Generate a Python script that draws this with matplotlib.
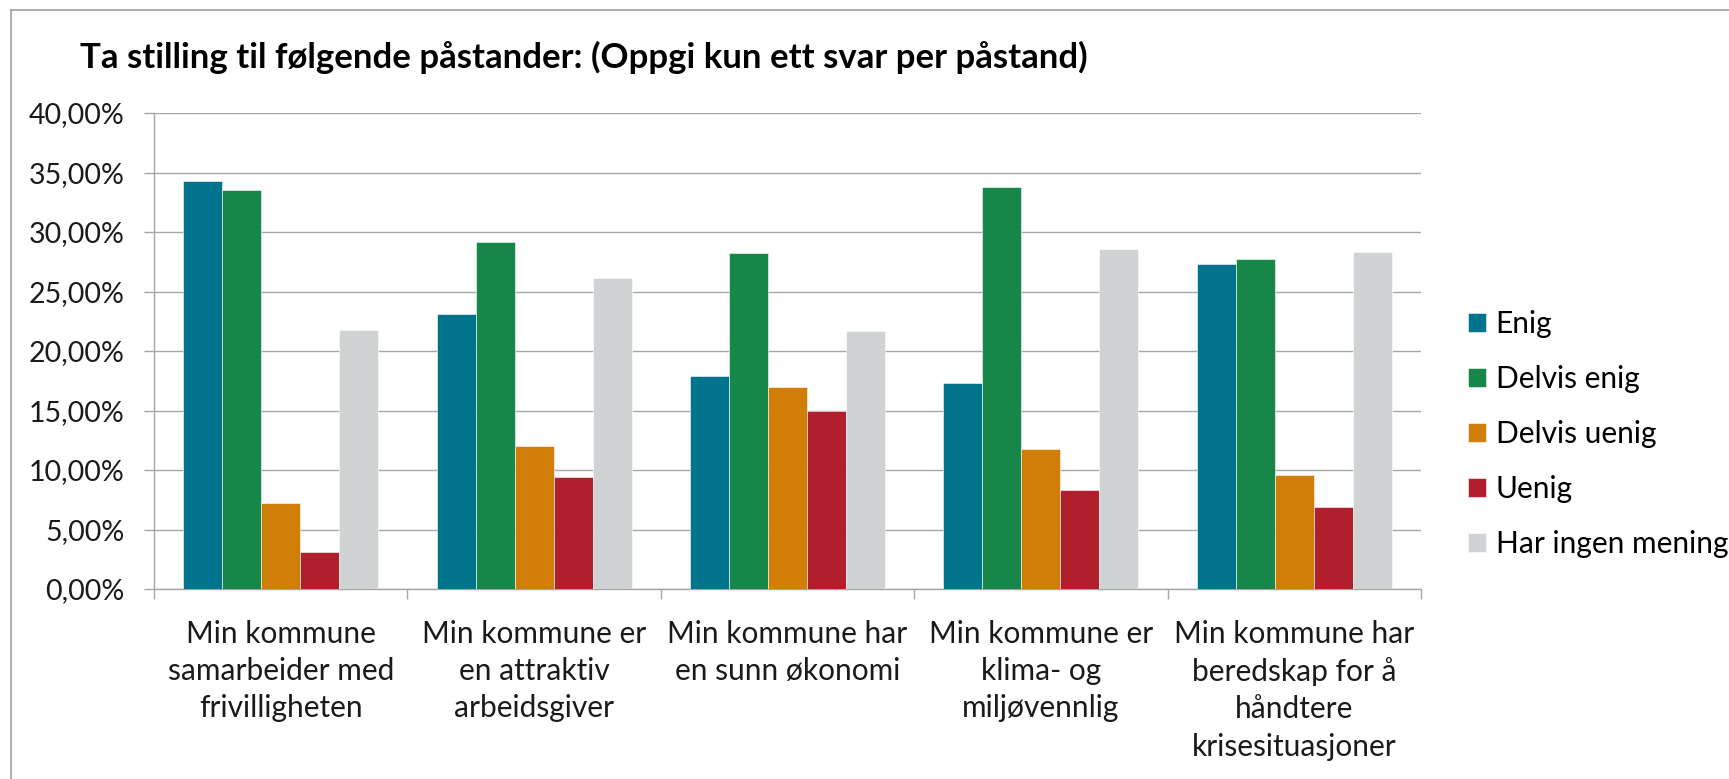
import matplotlib
matplotlib.use("Agg")
import matplotlib.pyplot as plt
from matplotlib.lines import Line2D
from matplotlib.ticker import FuncFormatter, FixedLocator
import numpy as np

plt.rcParams['font.family'] = ['Lato', 'DejaVu Sans']

categories = ["Min kommune\nsamarbeider med\nfrivilligheten",
              "Min kommune er\nen attraktiv\narbeidsgiver",
              "Min kommune har\nen sunn økonomi",
              "Min kommune er\nklima- og\nmiljøvennlig",
              "Min kommune har\nberedskap for å\nhåndtere\nkrisesituasjoner"]
series = ["Enig", "Delvis enig", "Delvis uenig", "Uenig", "Har ingen mening"]
enig = [34.3, 23.1, 17.9, 17.3, 27.3]
delvis_enig = [33.5, 29.2, 28.2, 33.8, 27.7]
delvis_uenig = [7.2, 12.0, 17.0, 11.8, 9.6]
uenig = [3.1, 9.4, 15.0, 8.3, 6.9]
ingen_mening = [21.8, 26.1, 21.7, 28.6, 28.3]
values = [enig, delvis_enig, delvis_uenig, uenig, ingen_mening]
colors = ["#00748D", "#178749", "#D17E08", "#B01F2B", "#CFD3D3"]

W, H = 1729, 779
fig = plt.figure(figsize=(W / 100, H / 100), dpi=100)
ax = fig.add_axes([154 / W, 1 - 589 / H, (1421 - 154) / W, (589 - 113) / H])

x = np.arange(len(categories))
w = 0.154
for i, (name, vals) in enumerate(zip(series, values)):
    ax.bar(x + (i - 2) * w, vals, w, color=colors[i], label=name,
           edgecolor="white", linewidth=0.4, zorder=3)

grid_c = "#A6A6A6"
ax.set_xlim(-0.5, len(categories) - 0.5)
ax.set_ylim(0, 40)
ax.set_yticks(np.arange(0, 41, 5))
ax.yaxis.set_major_formatter(FuncFormatter(lambda v, p: f"{v:.2f}".replace(".", ",") + "%"))
ax.grid(axis="y", color=grid_c, linewidth=1.0, zorder=0)

ax.set_xticks(x)
ax.set_xticklabels(categories, fontsize=21.5, linespacing=1.4, color="#1a1a1a")
ax.xaxis.set_minor_locator(FixedLocator(np.arange(-0.5, len(categories), 1.0)))
ax.tick_params(axis="x", which="major", length=0, pad=22)
ax.tick_params(axis="x", which="minor", length=7.5, color=grid_c, width=1.0)
ax.tick_params(axis="y", length=7.5, color=grid_c, width=1.0, labelsize=20.5,
               labelcolor="#1a1a1a", pad=14)

for s in ["top", "right"]:
    ax.spines[s].set_visible(False)
for s in ["left", "bottom"]:
    ax.spines[s].set_color(grid_c)
    ax.spines[s].set_linewidth(1.0)

fig.text(80 / W, 1 - 57 / H, "Ta stilling til følgende påstander: (Oppgi kun ett svar per påstand)",
         fontsize=25, fontweight="bold", va="center", ha="left")

ax.legend(loc="center left", bbox_to_anchor=(1441 / W, 1 - 434 / H), bbox_transform=fig.transFigure,
          frameon=False, fontsize=21.5, handlelength=0.6, handleheight=0.6,
          handletextpad=0.33, labelspacing=0.91)

# outer chart frame (cut off at right and bottom)
fig.add_artist(Line2D([11 / W, 1], [1 - 10 / H, 1 - 10 / H], color="#A0A0A0", linewidth=1.2))
fig.add_artist(Line2D([11 / W, 11 / W], [0, 1 - 10 / H], color="#A0A0A0", linewidth=1.2))

fig.savefig("out.png", dpi=100)
